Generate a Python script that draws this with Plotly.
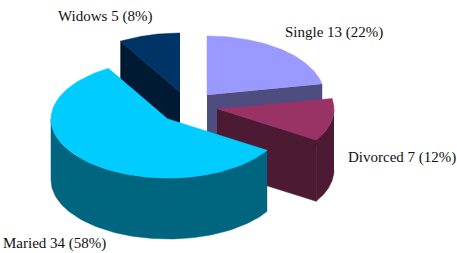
import numpy as np
import plotly.graph_objects as go

categories = ["Single", "Divorced", "Maried", "Widows"]
values = [13, 7, 34, 5]
percents = [22, 12, 58, 8]

top_colors = ["#9999FF", "#993366", "#00CCFF", "#003366"]
wall_colors = ["#4D4D80", "#4D1A33", "#006680", "#001A33"]
explode_dx = [21, 31, -18, -6]
explode_dy = [-12, 2, 12, -15]
label_x = [283, 346, 1, 56]
label_y = [32, 157, 243, 16]
draw_order = [0, 3, 1, 2]

CX, CY, RX, RY, DEPTH = 186, 107, 117, 59, 61


def arc(ax, ay, a0, a1, n=90):
    t = np.radians(np.linspace(a0, a1, n))
    return ax + RX * np.sin(t), ay - RY * np.cos(t)


total = sum(values)
edges = np.concatenate([[0], np.cumsum(values)]) * 360.0 / total

fig = go.Figure()


def poly(xs, ys, color):
    fig.add_trace(go.Scatter(
        x=list(xs), y=list(ys), mode="lines", fill="toself", fillcolor=color,
        line=dict(color=color, width=0.5), hoverinfo="skip", showlegend=False))


for i in draw_order:
    a0, a1 = edges[i], edges[i + 1]
    ax, ay = CX + explode_dx[i], CY + explode_dy[i]
    wall = wall_colors[i]
    # start cut face
    if np.sin(np.radians(a0)) < -1e-6:
        ex, ey = arc(ax, ay, a0, a0, 1)
        poly([ax, ex[0], ex[0], ax], [ay, ey[0], ey[0] + DEPTH, ay + DEPTH], wall)
    # end cut face
    if np.sin(np.radians(a1)) > 1e-6:
        ex, ey = arc(ax, ay, a1, a1, 1)
        poly([ax, ex[0], ex[0], ax], [ay, ey[0], ey[0] + DEPTH, ay + DEPTH], wall)
    # outer front wall
    lo, hi = max(a0, 90), min(a1, 270)
    if hi > lo:
        ox, oy = arc(ax, ay, lo, hi)
        poly(np.concatenate([ox, ox[::-1]]), np.concatenate([oy, oy[::-1] + DEPTH]), wall)
    # top
    tx, ty = arc(ax, ay, a0, a1)
    poly(np.concatenate([[ax], tx]), np.concatenate([[ay], ty]), top_colors[i])

for i, c in enumerate(categories):
    fig.add_annotation(x=label_x[i], y=label_y[i], xanchor="left", yanchor="middle",
                       text=f"{c} {values[i]} ({percents[i]}%)", showarrow=False,
                       font=dict(family="Liberation Serif", size=15, color="#111111"))

fig.update_layout(
    width=457, height=253, margin=dict(l=0, r=0, t=0, b=0),
    paper_bgcolor="white", plot_bgcolor="white", showlegend=False,
    xaxis=dict(range=[0, 457], visible=False, fixedrange=True),
    yaxis=dict(range=[253, 0], visible=False, fixedrange=True),
)
fig.write_html("out.html", config={"displayModeBar": False},
               post_script="document.body.style.margin='0';document.body.style.overflow='hidden';")
